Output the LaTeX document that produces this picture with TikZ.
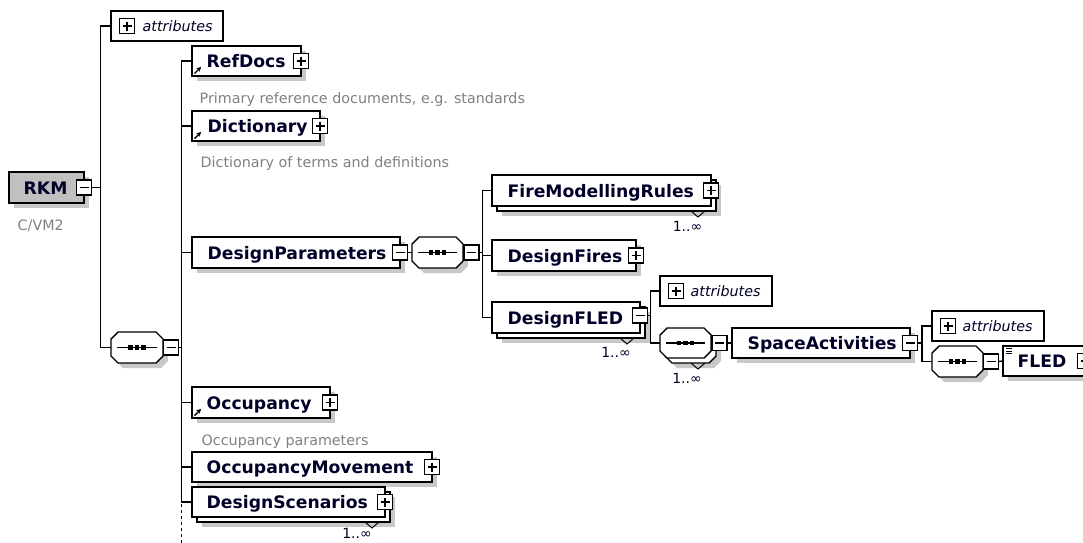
\documentclass[tikz,border=0pt]{standalone}
\usepackage{fontspec}
\setmainfont{DejaVu Sans}
\usetikzlibrary{shadows,arrows.meta}
\definecolor{txt}{RGB}{0,0,40}
\definecolor{ann}{RGB}{128,128,128}
\definecolor{shd}{RGB}{200,200,200}
\definecolor{rkmfill}{RGB}{192,192,192}
\newcommand\octpath[2]{%
  \draw[fill=white,#2] ([xshift=7pt]#1.north west) -- ([xshift=-7pt]#1.north east) -- ([yshift=-7pt]#1.north east)
    -- ([yshift=7pt]#1.south east) -- ([xshift=-7pt]#1.south east) -- ([xshift=7pt]#1.south west)
    -- ([yshift=7pt]#1.south west) -- ([yshift=-7pt]#1.north west) -- cycle;
  \draw[line width=1.3pt] ([xshift=6pt]#1.west) -- ([xshift=-6pt]#1.east);
  \foreach \dx in {-6.5,0,6.5} \fill ([xshift=\dx pt]#1.center) +(-2.2,-2.2) rectangle +(2.2,2.2);}
\newcommand\cardv[2]{\draw[line width=1pt] (#1-7,#2) -- (#1,#2+6) -- (#1+7,#2);}
\newcommand\aliasarrow[1]{\draw[-{Stealth[length=4.5pt,width=5pt]}, line width=1.4pt] ([xshift=2.5pt,yshift=2.5pt]#1.south west) -- ++(6.5,-6.5);}
\begin{document}
\begin{tikzpicture}[x=1pt,y=-1pt,line width=1.4pt,
  shdfive/.style={drop shadow={shadow xshift=5pt,shadow yshift=-5pt,fill=shd,opacity=1}},
  shdten/.style={drop shadow={shadow xshift=10pt,shadow yshift=-10pt,fill=shd,opacity=1}},
  stackbox/.style={shdten, copy shadow={shadow xshift=5pt,shadow yshift=-5pt}},
  elem/.style={draw=black, fill=white, rectangle, inner sep=0pt, outer sep=0pt, anchor=north west, minimum height=30pt},
  attbox/.style={draw=black, fill=white, rectangle, inner sep=0pt, outer sep=0pt, anchor=north west, minimum height=30pt, minimum width=112pt},
  seqbox/.style={rectangle, inner sep=0pt, outer sep=0pt, anchor=north west, minimum width=51pt, minimum height=31pt},
  ename/.style={font=\bfseries\fontsize{17.2}{20}\selectfont, text=txt, inner sep=0pt, text height=13.5pt, text depth=0pt, anchor=west},
  aname/.style={font=\itshape\fontsize{14.3}{17}\selectfont, text=txt, inner sep=0pt, text height=11.5pt, text depth=0pt, anchor=west},
  annot/.style={font=\fontsize{14.3}{17}\selectfont, text=ann, inner sep=0pt, anchor=base west},
  cardtext/.style={font=\fontsize{14}{17}\selectfont, text=txt, inner sep=0pt, anchor=base},
  pmbase/.style={draw=black, fill=white, line width=1.1pt, minimum size=15pt, inner sep=0pt, outer sep=0pt},
  plusbox/.style={pmbase, path picture={\draw[line width=1.1pt] ([xshift=3pt]path picture bounding box.west) -- ([xshift=-3pt]path picture bounding box.east) ([yshift=-3pt]path picture bounding box.north) -- ([yshift=3pt]path picture bounding box.south);}},
  minusbox/.style={pmbase, path picture={\draw[line width=1.1pt] ([xshift=3pt]path picture bounding box.west) -- ([xshift=-3pt]path picture bounding box.east);}}
]
\useasboundingbox (0,0) rectangle (1083,542);
\clip (0,0) rectangle (1083,542);

% root
\node[elem, fill=rkmfill, minimum width=75pt, minimum height=31pt, shdfive, label={[ename,xshift=14pt]west:RKM}] (rkm) at (9,172) {};
\node[minusbox] (rkmm) at (rkm.east) {};
\node[annot] (rkmnote) at (17,230) {C/VM2};

\node[attbox, label={[aname,xshift=31pt]west:attributes}] (att1) at (111,11) {};
\node[plusbox] (att1p) at ([xshift=16pt]att1.west) {};

\node[seqbox, minimum width=52pt] (seq1) at (111,332) {};
\octpath{seq1}{shdfive}
\node[minusbox] (seq1m) at ([xshift=8pt]seq1.east) {};

% children of sequence
\node[elem, minimum width=109pt, shdfive, label={[ename,xshift=14pt]west:RefDocs}] (refdocs) at (192,46) {};
\node[plusbox] (refdocsp) at (refdocs.east) {};
\aliasarrow{refdocs}
\node[annot] (refnote) at (199,103) {Primary reference documents, e.g. standards};

\node[elem, minimum width=128pt, shdfive, label={[ename,xshift=15pt]west:Dictionary}] (dict) at (192,111) {};
\node[plusbox] (dictp) at (dict.east) {};
\aliasarrow{dict}
\node[annot] (dictnote) at (200,167) {Dictionary of terms and definitions};

\node[elem, minimum width=208pt, minimum height=31pt, shdfive, label={[ename,xshift=15pt]west:DesignParameters}] (dp) at (192,237) {};
\node[minusbox] (dpm) at (dp.east) {};

\node[seqbox] (seq2) at (412,237) {};
\octpath{seq2}{shdfive}
\node[minusbox] (seq2m) at ([xshift=8.5pt]seq2.east) {};

\node[elem, minimum width=219pt, minimum height=31pt, stackbox, label={[ename,xshift=15pt]west:FireModellingRules}] (fmr) at (492,175) {};
\node[plusbox] (fmrp) at (fmr.east) {};
\cardv{698}{211}
\node[cardtext] (fmrc) at (687.5,231) {1..∞};

\node[elem, minimum width=144pt, minimum height=31pt, shdfive, label={[ename,xshift=15pt]west:DesignFires}] (dfires) at (492,240) {};
\node[plusbox] (dfiresp) at (dfires.east) {};

\node[elem, minimum width=148pt, minimum height=31pt, stackbox, label={[ename,xshift=15pt]west:DesignFLED}] (dfled) at (492,302) {};
\node[minusbox] (dfledm) at ([yshift=2pt]dfled.east) {};
\cardv{627}{338}
\node[cardtext] (dfledc) at (616,357) {1..∞};

\node[attbox, label={[aname,xshift=30pt]west:attributes}] (att2) at (660,276) {};
\node[plusbox] (att2p) at ([xshift=16pt]att2.west) {};

\node[seqbox, minimum height=30pt] (seq3) at (660,328) {};
\octpath{seq3}{stackbox}
\node[minusbox] (seq3m) at ([xshift=8.5pt]seq3.east) {};
\cardv{698}{363}
\node[cardtext] (seq3c) at (687,383) {1..∞};

\node[elem, minimum width=178pt, shdfive, label={[ename,xshift=15pt]west:SpaceActivities}] (sa) at (732,328) {};
\node[minusbox] (sam) at (sa.east) {};

\node[attbox, label={[aname,xshift=30pt]west:attributes}] (att3) at (932,311) {};
\node[plusbox] (att3p) at ([xshift=16pt]att3.west) {};

\node[seqbox] (seq4) at (932,346) {};
\octpath{seq4}{shdfive}
\node[minusbox] (seq4m) at ([xshift=8pt]seq4.east) {};

\node[elem, minimum width=82pt, shdfive, label={[ename,xshift=14pt]west:FLED}] (fled) at (1003,346) {};
\node[minusbox] (fledm) at (fled.east) {};
\foreach \dy in {2.5,5,7.5} \draw[line width=0.8pt] ([xshift=3pt,yshift=-\dy pt]fled.north west) -- ++(6,0);

\node[elem, minimum width=138pt, minimum height=31pt, shdfive, label={[ename,xshift=14pt]west:Occupancy}] (occ) at (192,387) {};
\node[plusbox] (occp) at (occ.east) {};
\aliasarrow{occ}
\node[annot] (occnote) at (201,445) {Occupancy parameters};

\node[elem, minimum width=240pt, shdfive, label={[ename,xshift=14pt]west:OccupancyMovement}] (occm) at (192,452) {};
\node[plusbox] (occmp) at (occm.east) {};

\node[elem, minimum width=193pt, stackbox, label={[ename,xshift=14pt]west:DesignScenarios}] (dscen) at (192,487) {};
\node[plusbox] (dscenp) at (dscen.east) {};
\cardv{372}{522}
\node[cardtext] (dscenc) at (357,538) {1..∞};

% connectors
\coordinate (b1) at (100.5,0);
\coordinate (b2) at (181.5,0);
\coordinate (b3) at (482.5,0);
\coordinate (b4) at (650.5,0);
\coordinate (b5) at (922,0);

\draw (att1.west) -- (att1.west -| b1) |- (seq1.west);
\draw (rkmm.east) -- (rkmm.east -| b1);
\draw (refdocs.west) -- (refdocs.west -| b2) |- (dscen.west);
\foreach \n in {dict,dp,occ,occm} \draw (\n.west) -- (\n.west -| b2);
\draw (seq1m.east) -- (seq1m.east -| b2);
\draw[dash pattern=on 3pt off 3pt] (dscen.west -| b2) ++(0,2) -- ++(0,45);
\draw (dpm.east) -- (seq2.west);
\draw (seq2m.east) -- (seq2m.east -| b3);
\draw (fmr.west) -- (fmr.west -| b3) |- (dfled.west);
\draw (dfires.west) -- (dfires.west -| b3);
\draw (dfledm.east) -- (dfledm.east -| b4);
\draw (att2.west) -- (att2.west -| b4) |- (seq3.west);
\draw (seq3m.east) -- (sa.west);
\draw (sam.east) -- (sam.east -| b5);
\draw (att3.west) -- (att3.west -| b5) |- (seq4.west);
\draw (seq4m.east) -- (fled.west);
\end{tikzpicture}
\end{document}
